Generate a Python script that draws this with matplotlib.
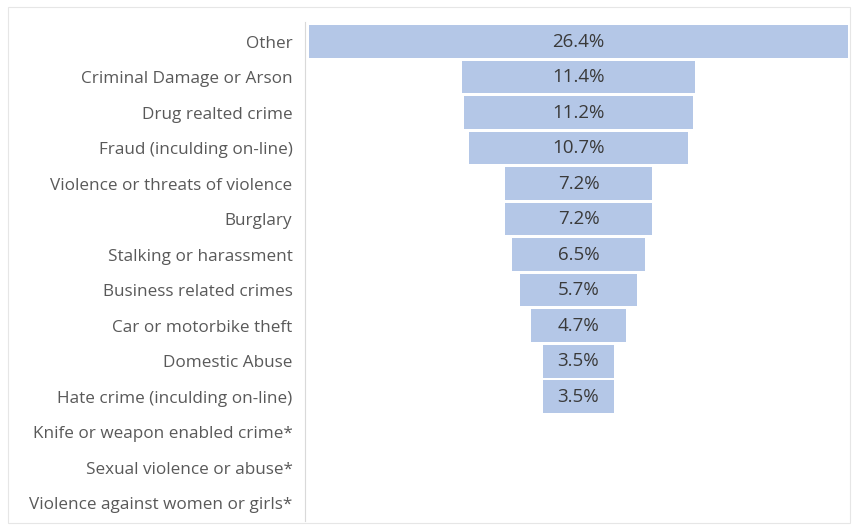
import matplotlib.pyplot as plt
import matplotlib.patches as mpatches
import numpy as np

plt.rcParams['font.family'] = ['Open Sans', 'DejaVu Sans']

categories = ['Other', 'Criminal Damage or Arson', 'Drug realted crime',
              'Fraud (inculding on-line)', 'Violence or threats of violence',
              'Burglary', 'Stalking or harassment', 'Business related crimes',
              'Car or motorbike theft', 'Domestic Abuse',
              'Hate crime (inculding on-line)', 'Knife or weapon enabled crime*',
              'Sexual violence or abuse*', 'Violence against women or girls*']
values = [26.4, 11.4, 11.2, 10.7, 7.2, 7.2, 6.5, 5.7, 4.7, 3.5, 3.5, 0, 0, 0]

fig = plt.figure(figsize=(8.55, 5.32), dpi=100)
ax = fig.add_axes([305 / 855, 1 - 521 / 532, 547 / 855, 499 / 532])

y = np.arange(len(categories))
vals = np.array(values)
ax.barh(y, vals, left=-vals / 2, height=0.92, color='#b4c7e7', edgecolor='none')

for yi, v in zip(y, vals):
    if v > 0:
        ax.text(0, yi, f'{v:.1f}%', ha='center', va='center',
                fontsize=13.5, color='#3a3a3a')

ax.set_yticks(y)
ax.set_yticklabels(categories, fontsize=12.3, color='#595959')
ax.tick_params(axis='y', length=0, pad=9)
ax.set_xticks([])
ax.set_xlim(-13.4, 13.4)
ax.set_ylim(len(categories) - 0.5, -0.55)
for s in ['top', 'right', 'bottom']:
    ax.spines[s].set_visible(False)
ax.spines['left'].set_color('#d9d9d9')

# light frame around the chart area
fig.add_artist(mpatches.Rectangle((8 / 855, 1 - 523 / 532), 842 / 855, 516 / 532,
                                  transform=fig.transFigure, fill=False,
                                  edgecolor='#e6e6e6', linewidth=0.8))

fig.savefig('out.png', dpi=100)
